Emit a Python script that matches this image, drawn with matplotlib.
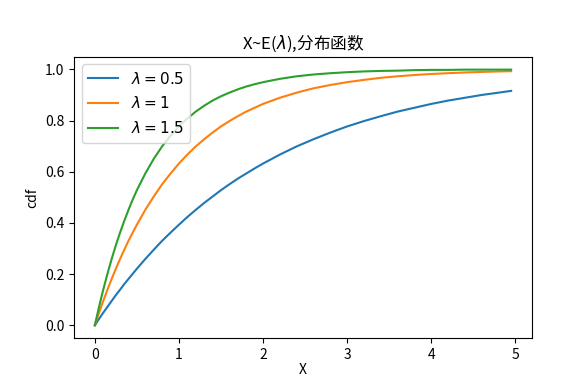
import matplotlib
matplotlib.use('Agg')
import matplotlib.pyplot as plt

plt.rcParams['font.family'] = ['Noto Sans CJK SC', 'DejaVu Sans']
plt.rcParams['axes.unicode_minus'] = False

# x positions and cdf values
x = [0, 0.05, 0.1, 0.15, 0.2, 0.25, 0.3, 0.35, 0.4, 0.45, 0.5,
     0.6, 0.7, 0.8, 0.9, 1.0, 1.1, 1.2, 1.3, 1.4, 1.5,
     1.6, 1.7, 1.8, 1.9, 2.0, 2.2, 2.4, 2.6, 2.8, 3.0,
     3.2, 3.4, 3.6, 3.8, 4.0, 4.2, 4.4, 4.6, 4.8, 4.95]
cdf_05 = [0, 0.025, 0.049, 0.072, 0.095, 0.118, 0.139, 0.161, 0.181, 0.201, 0.221,
          0.259, 0.295, 0.330, 0.362, 0.393, 0.423, 0.451, 0.478, 0.503, 0.528,
          0.551, 0.573, 0.593, 0.613, 0.632, 0.667, 0.699, 0.727, 0.753, 0.777,
          0.798, 0.817, 0.835, 0.850, 0.865, 0.878, 0.889, 0.900, 0.909, 0.916]
cdf_1 = [0, 0.049, 0.095, 0.139, 0.181, 0.221, 0.259, 0.295, 0.330, 0.362, 0.393,
         0.451, 0.503, 0.551, 0.593, 0.632, 0.667, 0.699, 0.727, 0.753, 0.777,
         0.798, 0.817, 0.835, 0.850, 0.865, 0.889, 0.909, 0.926, 0.939, 0.950,
         0.959, 0.967, 0.973, 0.978, 0.982, 0.985, 0.988, 0.990, 0.992, 0.993]
cdf_15 = [0, 0.072, 0.139, 0.201, 0.259, 0.313, 0.362, 0.408, 0.451, 0.491, 0.528,
          0.593, 0.650, 0.699, 0.741, 0.777, 0.808, 0.835, 0.858, 0.878, 0.895,
          0.909, 0.922, 0.933, 0.942, 0.950, 0.963, 0.973, 0.980, 0.985, 0.989,
          0.992, 0.994, 0.995, 0.997, 0.998, 0.998, 0.999, 0.999, 0.999, 0.999]
labels = [r'$\lambda=0.5$', r'$\lambda=1$', r'$\lambda=1.5$']

fig = plt.figure(figsize=(5.76, 3.79), dpi=100)
ax = fig.add_axes([0.1285, 0.108, 0.795, 0.742])

for ys, lab in zip([cdf_05, cdf_1, cdf_15], labels):
    ax.plot(x, ys, label=lab, linewidth=1.5)

ax.set_title(r'X~E($\lambda$),分布函数', fontsize=12)
ax.set_xlabel('X', labelpad=1)
ax.set_ylabel('cdf')
ax.legend(loc='upper left', fontsize=11)

# xlabel of a plot above, cut off by the crop
fig.text(0.53, 0.993, 'X', ha='center', va='bottom', fontsize=10)

fig.savefig('out.png', dpi=100)
